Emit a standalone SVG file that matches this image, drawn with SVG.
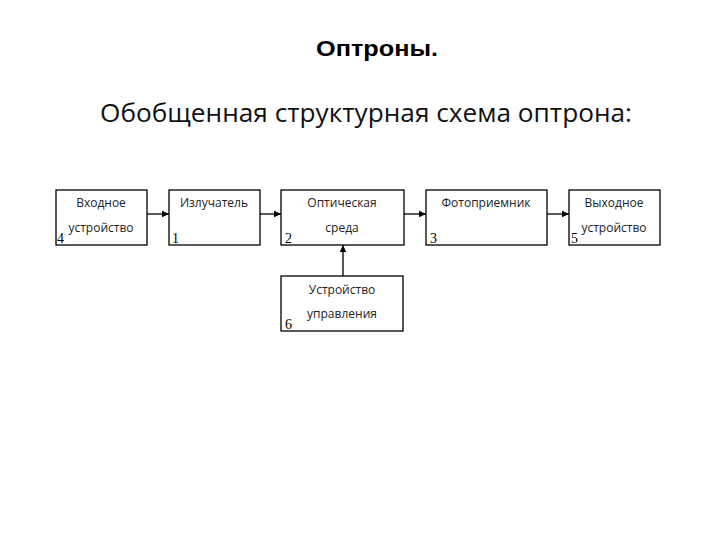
<svg xmlns="http://www.w3.org/2000/svg" width="720" height="540" viewBox="0 0 720 540">
<style>
.box{fill:#fff;stroke:#000;stroke-width:1.3}
.t{font-family:"Open Sans","Noto Sans",sans-serif;font-size:12px;fill:#222;text-anchor:middle}
.n{font-family:"Liberation Serif",serif;font-size:14px;fill:#000}
.c{stroke:#000;stroke-width:1.3;fill:none}
</style>
<defs>
<marker id="ah" markerWidth="8" markerHeight="8" refX="7" refY="4" orient="auto" markerUnits="userSpaceOnUse">
<path d="M0,0.8 L7,4 L0,7.2 Z" fill="#000"/>
</marker>
</defs>
<rect width="720" height="540" fill="#fff"/>
<text x="377" y="56" font-family="Liberation Sans,Arial,sans-serif" font-weight="bold" font-size="22" text-anchor="middle" textLength="122" lengthAdjust="spacingAndGlyphs">Оптроны.</text>
<text x="366" y="122" font-family="Open Sans,Noto Sans,sans-serif" font-size="26" text-anchor="middle" textLength="532" lengthAdjust="spacingAndGlyphs" fill="#111">Обобщенная структурная схема оптрона:</text>
<g id="connectors">
<line class="c" x1="147" y1="214" x2="169" y2="214" marker-end="url(#ah)"/>
<line class="c" x1="260" y1="214" x2="281" y2="214" marker-end="url(#ah)"/>
<line class="c" x1="404" y1="214" x2="426" y2="214" marker-end="url(#ah)"/>
<line class="c" x1="547" y1="214" x2="569" y2="214" marker-end="url(#ah)"/>
<line class="c" x1="343" y1="276" x2="343" y2="245" marker-end="url(#ah)"/>
</g>
<g id="node4">
<rect class="box" x="56" y="190" width="91" height="55"/>
<text class="t" x="101" y="207">Входное</text>
<text class="t" x="101" y="232">устройство</text>
<text class="n" x="57" y="243">4</text>
</g>
<g id="node1">
<rect class="box" x="169" y="190" width="91" height="55"/>
<text class="t" x="214" y="207">Излучатель</text>
<text class="n" x="172" y="243">1</text>
</g>
<g id="node2">
<rect class="box" x="281" y="190" width="123" height="55"/>
<text class="t" x="342" y="207">Оптическая</text>
<text class="t" x="342" y="232">среда</text>
<text class="n" x="285" y="243">2</text>
</g>
<g id="node3">
<rect class="box" x="426" y="190" width="121" height="55"/>
<text class="t" x="486" y="207">Фотоприемник</text>
<text class="n" x="430" y="243">3</text>
</g>
<g id="node5">
<rect class="box" x="569" y="190" width="91" height="55"/>
<text class="t" x="614" y="207">Выходное</text>
<text class="t" x="614" y="232">устройство</text>
<text class="n" x="571" y="243">5</text>
</g>
<g id="node6">
<rect class="box" x="281" y="276" width="122" height="55"/>
<text class="t" x="342" y="294">Устройство</text>
<text class="t" x="342" y="318">управления</text>
<text class="n" x="285" y="329">6</text>
</g>
</svg>
